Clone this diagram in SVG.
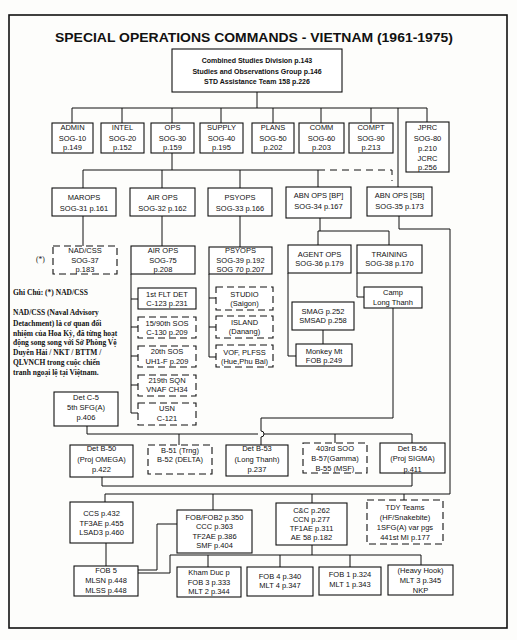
<svg xmlns="http://www.w3.org/2000/svg" width="517" height="640" viewBox="0 0 517 640">
<style>
.bg{fill:#fdfdfb}
.frame{fill:none;stroke:#111;stroke-width:1.6}
.b{fill:#fff;stroke:#111;stroke-width:1.1}
.d{fill:#fff;stroke:#111;stroke-width:1.1;stroke-dasharray:7 4}
.t{font-family:"Liberation Sans",Arial,sans-serif;font-size:7.5px;fill:#111;text-anchor:middle}
.tb{font-family:"Liberation Sans",Arial,sans-serif;font-size:7px;font-weight:bold;fill:#111;text-anchor:middle}
.title{font-family:"Liberation Sans",Arial,sans-serif;font-size:13.5px;font-weight:bold;fill:#111}
.n{font-family:"Liberation Serif","Times New Roman",serif;font-size:7.5px;font-weight:bold;fill:#111}
.c{fill:none;stroke:#111;stroke-width:1}
.cd{fill:none;stroke:#111;stroke-width:1;stroke-dasharray:7 5}
</style>
<rect class="bg" x="0" y="0" width="517" height="640"/>
<rect class="frame" x="9" y="15" width="498" height="613"/>
<text class="title" x="55" y="41.5" textLength="398" lengthAdjust="spacingAndGlyphs">SPECIAL OPERATIONS COMMANDS - VIETNAM (1961-1975)</text>

<g id="connectors">
<path class="c" d="M257,92V108M72,108H427M72,108V123M122,108V123M172,108V123M221,108V123M273,108V123M321,108V123M371,108V123M427,108V122M398,108V187"/>
<path class="c" d="M172,153V170M83,170H318M83,170V188M162,170V188M240,170V188M318,170V187"/>
<path class="cd" d="M318,170H392V181"/>
<path class="c" d="M83,216V246M162,216V246M240,216V247"/>
<path class="c" d="M131,274V413H138M131,299H138M131,327H138M131,356H138M131,385H138"/>
<path class="c" d="M209,274V357H216M209,298H216M209,327H216"/>
<path class="c" d="M320,218V231M318,231H389M318,231V245M389,231V245"/>
<path class="c" d="M288,273V356H296M323,330V344M357,273V297H364"/>
<path class="c" d="M399,216V229H450V494H105V502M213,494V510M312,494V503M404,494V500"/>
<path class="c" d="M393,308V418H261V431A3,3 0 0 1 261,437V445"/>
<path class="c" d="M87,426V434H258M264,434H412M179,434V445M335,434V443M412,434V443"/>
<path class="c" d="M102,477V486H412V473"/>
<path class="c" d="M106,543V566M177,524H157V570H138"/>
<path class="c" d="M312,545V555M170,555H421M170,555V573H138M208,555V567M280,555V567M350,555V567M421,555V565"/>
</g>

<g id="top">
<rect class="b" x="172" y="49" width="170" height="43"/>
<text class="tb" x="257" y="62.5">Combined Studies Division p.143</text>
<text class="tb" x="257" y="73.5">Studies and Observations Group p.146</text>
<text class="tb" x="257" y="83.5">STD Assistance Team 158 p.226</text>
</g>

<g id="admin"><rect class="b" x="52" y="123" width="41" height="30"/><text class="t" x="72.5" y="130">ADMIN</text><text class="t" x="72.5" y="141">SOG-10</text><text class="t" x="72.5" y="150">p.149</text></g>
<g id="intel"><rect class="b" x="101" y="123" width="43" height="30"/><text class="t" x="122.5" y="130">INTEL</text><text class="t" x="122.5" y="141">SOG-20</text><text class="t" x="122.5" y="150">p.152</text></g>
<g id="ops"><rect class="b" x="151" y="123" width="43" height="30"/><text class="t" x="172.5" y="130">OPS</text><text class="t" x="172.5" y="141">SOG-30</text><text class="t" x="172.5" y="150">p.159</text></g>
<g id="supply"><rect class="b" x="200" y="123" width="43" height="30"/><text class="t" x="221.5" y="130">SUPPLY</text><text class="t" x="221.5" y="141">SOG-40</text><text class="t" x="221.5" y="150">p.195</text></g>
<g id="plans"><rect class="b" x="252" y="123" width="42" height="30"/><text class="t" x="273" y="130">PLANS</text><text class="t" x="273" y="141">SOG-50</text><text class="t" x="273" y="150">p.202</text></g>
<g id="comm"><rect class="b" x="299" y="123" width="45" height="30"/><text class="t" x="321.5" y="130">COMM</text><text class="t" x="321.5" y="141">SOG-60</text><text class="t" x="321.5" y="150">p.203</text></g>
<g id="compt"><rect class="b" x="349" y="123" width="44" height="30"/><text class="t" x="371" y="130">COMPT</text><text class="t" x="371" y="141">SOG-90</text><text class="t" x="371" y="150">p.213</text></g>
<g id="jprc"><rect class="b" x="406" y="122" width="43" height="50"/><text class="t" x="427.5" y="130">JPRC</text><text class="t" x="427.5" y="141">SOG-80</text><text class="t" x="427.5" y="151">p.210</text><text class="t" x="427.5" y="161">JCRC</text><text class="t" x="427.5" y="170">p.256</text></g>

<g id="marops"><rect class="b" x="52" y="188" width="64" height="28"/><text class="t" x="84" y="200">MAROPS</text><text class="t" x="84" y="211">SOG-31 p.161</text></g>
<g id="airops"><rect class="b" x="130" y="188" width="65" height="28"/><text class="t" x="162.5" y="200">AIR OPS</text><text class="t" x="162.5" y="211">SOG-32 p.162</text></g>
<g id="psyops"><rect class="b" x="208" y="188" width="64" height="28"/><text class="t" x="240" y="200">PSYOPS</text><text class="t" x="240" y="211">SOG-33 p.166</text></g>
<g id="abnbp"><rect class="b" x="286" y="187" width="65" height="31"/><text class="t" x="318.5" y="198">ABN OPS [BP]</text><text class="t" x="318.5" y="209">SOG-34 p.167</text></g>
<g id="abnsb"><rect class="b" x="367" y="187" width="65" height="29"/><text class="t" x="399.5" y="198">ABN OPS [SB]</text><text class="t" x="399.5" y="209">SOG-35 p.173</text></g>

<g id="nadcss"><rect class="d" x="53" y="246" width="64" height="28"/><text class="t" x="85" y="253">NAD/CSS</text><text class="t" x="85" y="263">SOG-37</text><text class="t" x="85" y="272">p.183</text></g>
<text class="n" x="36" y="262" style="font-weight:normal">(*)</text>
<g id="airops75"><rect class="b" x="131" y="246" width="64" height="28"/><text class="t" x="163" y="253">AIR OPS</text><text class="t" x="163" y="263">SOG-75</text><text class="t" x="163" y="272">p.208</text></g>
<g id="psyops39"><rect class="b" x="209" y="247" width="63" height="27"/><text class="t" x="240.5" y="253">PSYOPS</text><text class="t" x="240.5" y="263">SOG-39 p.192</text><text class="t" x="240.5" y="272">SOG 70 p.207</text></g>
<g id="agentops"><rect class="b" x="288" y="245" width="63" height="28"/><text class="t" x="319.5" y="256.5">AGENT OPS</text><text class="t" x="319.5" y="265.5">SOG-36 p.179</text></g>
<g id="training"><rect class="b" x="357" y="245" width="65" height="28"/><text class="t" x="389.5" y="256.5">TRAINING</text><text class="t" x="389.5" y="265.5">SOG-38 p.170</text></g>

<g id="fltdet"><rect class="b" x="138" y="288" width="58" height="21"/><text class="t" x="167" y="296.6">1st FLT DET</text><text class="t" x="167" y="305.6">C-123 p.231</text></g>
<g id="sos15"><rect class="d" x="138" y="317" width="58" height="21"/><text class="t" x="167" y="325.6">15/90th SOS</text><text class="t" x="167" y="334.6">C-130 p.209</text></g>
<g id="sos20"><rect class="d" x="138" y="346" width="58" height="21"/><text class="t" x="167" y="353.6">20th SOS</text><text class="t" x="167" y="363.6">UH1-F p.209</text></g>
<g id="sqn219"><rect class="d" x="138" y="375" width="58" height="21"/><text class="t" x="167" y="382.6">219th SQN</text><text class="t" x="167" y="391.6">VNAF CH34</text></g>
<g id="usn"><rect class="d" x="138" y="403" width="58" height="22"/><text class="t" x="167" y="410.6">USN</text><text class="t" x="167" y="420.6">C-121</text></g>

<g id="studio"><rect class="d" x="216" y="287" width="57" height="23"/><text class="t" x="244.5" y="296.6">STUDIO</text><text class="t" x="244.5" y="305.6">(Saigon)</text></g>
<g id="island"><rect class="d" x="216" y="316" width="57" height="22"/><text class="t" x="244.5" y="324.6">ISLAND</text><text class="t" x="244.5" y="333.6">(Danang)</text></g>
<g id="vof"><rect class="d" x="216" y="345" width="57" height="22"/><text class="t" x="244.5" y="354.6">VOF, PLFSS</text><text class="t" x="244.5" y="363.6">(Hue,Phu Bai)</text></g>

<g id="smag"><rect class="b" x="292" y="302" width="62" height="28"/><text class="t" x="323" y="313.6">SMAG p.252</text><text class="t" x="323" y="322.6">SMSAD p.258</text></g>
<g id="monkey"><rect class="b" x="296" y="344" width="56" height="22"/><text class="t" x="324" y="353.6">Monkey Mt</text><text class="t" x="324" y="362.6">FOB p.249</text></g>
<g id="camp"><rect class="b" x="364" y="287" width="58" height="21"/><text class="t" x="393" y="294.6">Camp</text><text class="t" x="393" y="304.6">Long Thanh</text></g>

<g id="note">
<text class="n" x="13" y="295">Ghi Chú:  (*) NAD/CSS</text>
<text class="n" x="13" y="314.6">NAD/CSS (Naval Advisory</text>
<text class="n" x="13" y="325.6">Detachment) là cơ quan đối</text>
<text class="n" x="13" y="335.6">nhiệm của Hoa Kỳ, đã từng hoạt</text>
<text class="n" x="13" y="344.6">động song song với Sở Phòng Vệ</text>
<text class="n" x="13" y="354.6">Duyên Hải / NKT / BTTM /</text>
<text class="n" x="13" y="364.6">QLVNCH trong cuộc chiến</text>
<text class="n" x="13" y="374.6">tranh ngoại lệ tại Việtnam.</text>
</g>

<g id="detc5"><rect class="b" x="54" y="392" width="64" height="34"/><text class="t" x="86" y="399.6">Det C-5</text><text class="t" x="86" y="409.6">5th SFG(A)</text><text class="t" x="86" y="419.6">p.406</text></g>

<g id="b50"><rect class="b" x="70" y="445" width="63" height="32"/><text class="t" x="101.5" y="450.6">Det B-50</text><text class="t" x="101.5" y="461.6">(Proj OMEGA)</text><text class="t" x="101.5" y="471.6">p.422</text></g>
<g id="b51"><rect class="d" x="148" y="445" width="64" height="29"/><text class="t" x="180" y="452.6">B-51 (Trng)</text><text class="t" x="180" y="461.6">B-52 (DELTA)</text></g>
<g id="b53"><rect class="b" x="226" y="445" width="62" height="31"/><text class="t" x="257" y="450.6">Det B-53</text><text class="t" x="257" y="461.6">(Long Thanh)</text><text class="t" x="257" y="471.6">p.237</text></g>
<g id="b57"><rect class="d" x="303" y="443" width="64" height="30"/><text class="t" x="335" y="450.6">403rd SOO</text><text class="t" x="335" y="460.6">B-57(Gamma)</text><text class="t" x="335" y="470.6">B-55 (MSF)</text></g>
<g id="b56"><rect class="b" x="380" y="443" width="65" height="30"/><text class="t" x="412.5" y="450.6">Det B-56</text><text class="t" x="412.5" y="460.6">(Proj SIGMA)</text><text class="t" x="412.5" y="471.6">p.411</text></g>

<g id="ccs"><rect class="b" x="70" y="502" width="63" height="41"/><text class="t" x="101.5" y="515.6">CCS p.432</text><text class="t" x="101.5" y="525.6">TF3AE p.455</text><text class="t" x="101.5" y="534.6">LSAD3 p.460</text></g>
<g id="fob2"><rect class="b" x="177" y="510" width="75" height="43"/><text class="t" x="214.5" y="519.6">FOB/FOB2 p.350</text><text class="t" x="214.5" y="528.6">CCC p.363</text><text class="t" x="214.5" y="538.6">TF2AE p.386</text><text class="t" x="214.5" y="547.6">SMF p.404</text></g>
<g id="cc"><rect class="b" x="276" y="503" width="71" height="42"/><text class="t" x="311.5" y="512.6">C&amp;C p.262</text><text class="t" x="311.5" y="521.6">CCN p.277</text><text class="t" x="311.5" y="530.6">TF1AE p.311</text><text class="t" x="311.5" y="539.6">AE 58 p.182</text></g>
<g id="tdy"><rect class="d" x="367" y="500" width="76" height="44"/><text class="t" x="405" y="509.6">TDY Teams</text><text class="t" x="405" y="519.6">(HF/Snakebite)</text><text class="t" x="405" y="529.6">1SFG(A) var pgs</text><text class="t" x="405" y="539.6">441st MI p.177</text></g>

<g id="fob5"><rect class="b" x="74" y="566" width="64" height="30"/><text class="t" x="106" y="572.6">FOB 5</text><text class="t" x="106" y="582.6">MLSN p.448</text><text class="t" x="106" y="592.6">MLSS p.448</text></g>
<g id="khamduc"><rect class="b" x="177" y="567" width="64" height="30"/><text class="t" x="209" y="574.6">Kham Duc p</text><text class="t" x="209" y="584.6">FOB 3 p.333</text><text class="t" x="209" y="593.6">MLT 2 p.344</text></g>
<g id="fob4"><rect class="b" x="247" y="567" width="66" height="29"/><text class="t" x="280" y="578.6">FOB 4 p.340</text><text class="t" x="280" y="587.6">MLT 4 p.347</text></g>
<g id="fob1"><rect class="b" x="319" y="567" width="62" height="28"/><text class="t" x="350" y="576.6">FOB 1 p.324</text><text class="t" x="350" y="586.6">MLT 1 p.343</text></g>
<g id="heavyhook"><rect class="b" x="388" y="565" width="65" height="30"/><text class="t" x="420.5" y="572.6">(Heavy Hook)</text><text class="t" x="420.5" y="582.6">MLT 3 p.345</text><text class="t" x="420.5" y="592.6">NKP</text></g>
</svg>
